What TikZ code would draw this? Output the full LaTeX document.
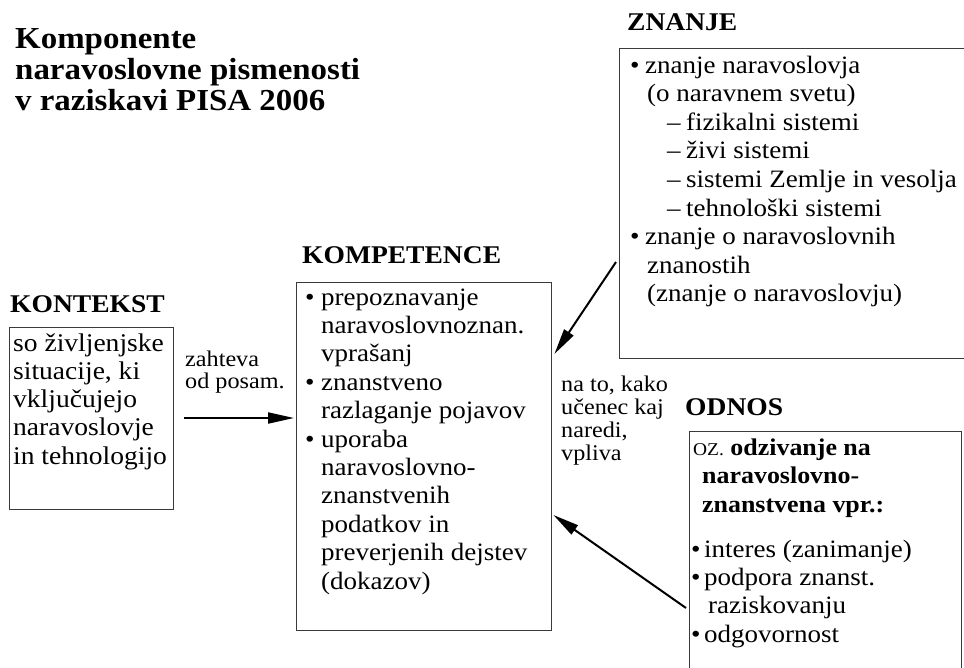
\documentclass[tikz,border=0pt]{standalone}
\usepackage{fontspec}
\setmainfont{Liberation Serif}[FakeStretch=1.08]
\usetikzlibrary{arrows.meta,calc}
\definecolor{boxgray}{HTML}{3A3A3A}
\newcommand\kb[2]{\makebox[#1pt][l]{#2}}
\begin{document}
\begin{tikzpicture}[x=1pt,y=-1pt,
  box/.style={draw=boxgray, line width=1.4pt, rectangle, inner sep=0pt, anchor=north west},
  txt/.style={anchor=base west, inner sep=0pt},
  head/.style={anchor=base west, inner sep=0pt, font=\fontsize{25.5}{28}\selectfont\bfseries},
  arr/.style={line width=2pt, -{Triangle[length=26pt,width=11pt]}}]
\useasboundingbox (0,0) rectangle (964,667);
\clip (0,0) rectangle (964,667);

% title
\node[txt] (title) at (15,48) {\parbox[t]{400pt}{\fontsize{30.5}{31}\selectfont\bfseries
Komponente\\naravoslovne pismenosti\\v raziskavi PISA 2006}};

% boxes
\node[box, minimum width=164pt, minimum height=182pt] (kontekst) at (9,327) {};
\node[box, minimum width=255pt, minimum height=348pt] (komp) at (296,282) {};
\node[box, minimum width=420pt, minimum height=310pt] (znanje) at (619,48) {};
\node[box, minimum width=272pt, minimum height=300pt] (odnos) at (689,431) {};

% headings
\node[head] (h-kontekst) at (10,312) {KONTEKST};
\node[head] (h-komp) at (302,263) {KOMPETENCE};
\node[head] (h-znanje) at (627,30) {ZNANJE};
\node[head] (h-odnos) at (685,415) {ODNOS};

% KONTEKST text
\node[txt] (t-kontekst) at (13,351) {\parbox[t]{170pt}{\fontsize{25.5}{28.3}\selectfont
so življenjske\\situacije, ki\\vključujejo\\naravoslovje\\in tehnologijo}};

% label zahteva
\node[txt] (l-zahteva) at (185,366) {\parbox[t]{120pt}{\fontsize{22.4}{22}\selectfont
zahteva\\od posam.}};

% KOMPETENCE text
\node[txt] (t-komp) at (305,305) {\parbox[t]{250pt}{\fontsize{25}{28.4}\selectfont
\kb{16}{\textbullet}prepoznavanje\\
\kb{16}{}naravoslovnoznan.\\
\kb{16}{}vprašanj\\
\kb{16}{\textbullet}znanstveno\\
\kb{16}{}razlaganje pojavov\\
\kb{16}{\textbullet}uporaba\\
\kb{16}{}naravoslovno-\\
\kb{16}{}znanstvenih\\
\kb{16}{}podatkov in\\
\kb{16}{}preverjenih dejstev\\
\kb{16}{}(dokazov)}};

% ZNANJE text
\node[txt] (t-znanje) at (630,73) {\parbox[t]{330pt}{\fontsize{25}{28.6}\selectfont
\kb{15}{\textbullet}znanje naravoslovja\\
\kb{17}{}(o naravnem svetu)\\
\kb{37}{}\kb{19}{–}fizikalni sistemi\\
\kb{37}{}\kb{19}{–}živi sistemi\\
\kb{37}{}\kb{19}{–}sistemi Zemlje in vesolja\\
\kb{37}{}\kb{19}{–}tehnološki sistemi\\
\kb{15}{\textbullet}znanje o naravoslovnih\\
\kb{17}{}znanostih\\
\kb{17}{}(znanje o naravoslovju)}};

% label na to, kako
\node[txt] (l-vpliva) at (561,391) {\parbox[t]{120pt}{\fontsize{22.4}{23}\selectfont
na to, kako\\učenec kaj\\naredi,\\vpliva}};

% ODNOS text
\node[txt] (t-odnos1) at (693,455) {\parbox[t]{265pt}{\fontsize{24}{28.5}\selectfont
{\fontsize{18}{20}\selectfont OZ.} \textbf{odzivanje na}\\
\kb{9}{}\textbf{naravoslovno-}\\
\kb{9}{}\textbf{znanstvena vpr.:}}};
\node[txt] (t-odnos2) at (691,557) {\parbox[t]{265pt}{\fontsize{25}{28.4}\selectfont
\kb{13}{\textbullet}interes (zanimanje)\\
\kb{13}{\textbullet}podpora znanst.\\
\kb{17}{}raziskovanju\\
\kb{13}{\textbullet}odgovornost}};

% arrows
\coordinate (a1) at (184,418);
\coordinate (a2) at (616,262);
\coordinate (a3) at (686,608);
\draw[arr, shorten >=2pt] (a1) -- (komp.west |- a1);
\draw[arr] (a2) -- ($(komp.north east)+(2,72)$);
\draw[arr] (a3) -- ($(komp.north east)+(1,233)$);
\end{tikzpicture}
\end{document}
